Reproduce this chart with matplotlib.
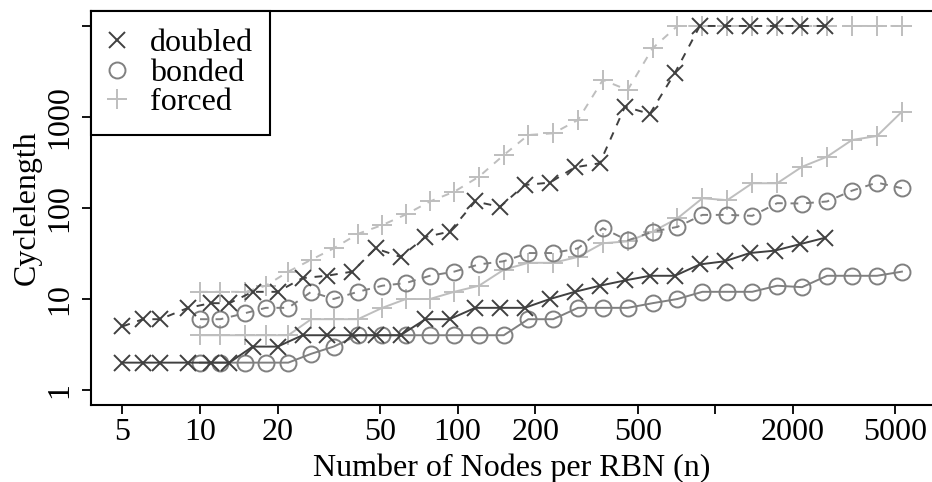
import matplotlib
matplotlib.use("Agg")
import matplotlib.pyplot as plt
from matplotlib.lines import Line2D

plt.rcParams['font.family'] = ['Liberation Serif', 'DejaVu Serif']

# ---- data ----
x_doubled = [5, 6, 7, 9, 11, 13, 16, 20, 25, 31, 39, 48, 60, 75, 93, 117, 146, 182,
             228, 285, 356, 446, 557, 697, 871, 1089, 1361, 1701, 2127, 2658]
doubled_solid = [2, 2, 2, 2, 2, 2, 3, 3, 4, 4, 4, 4, 4, 6, 6, 8, 8, 8,
                 10, 12, 14, 16, 18, 18, 24, 26, 32, 34, 40, 47]
doubled_dashed = [5, 6, 6, 8, 9, 9, 12, 12, 17, 18, 20, 36, 29, 48, 55, 118, 103, 179,
                  190, 280, 310, 1300, 1080, 3050, 10000, 10000, 10000, 10000, 10000, 10000]

x_grid = [10, 12, 15, 18, 22, 27, 33, 41, 51, 63, 78, 97, 121, 151, 188, 235, 293, 366,
          457, 571, 713, 891, 1113, 1391, 1738, 2172, 2715, 3393, 4241, 5301]
bonded_solid = [2, 2, 2, 2, 2, 2.5, 3, 4, 4, 4, 4, 4, 4, 4, 6, 6, 8, 8,
                8, 9, 10, 12, 12, 12, 14, 13.5, 18, 18, 18, 20]
bonded_dashed = [6, 6, 7, 8, 8, 12, 10, 12, 14, 15, 18, 20, 24, 26, 32, 32, 36, 60,
                 44, 55, 62, 84, 84, 82, 113, 112, 118, 155, 190, 165]
forced_solid = [4, 4, 4, 4, 4, 6, 6, 6, 8, 10, 10, 12, 14, 21, 25, 25, 29, 41,
                43, 55, 77, 128, 122, 187, 187, 284, 366, 559, 618, 1143]
forced_dashed = [12, 12, 12, 14, 20, 27, 36, 52, 65, 85, 118, 151, 221, 382, 634, 662, 927, 2550,
                 1980, 5690, 10000, 10000, 10000, 10000, 10000, 10000, 10000, 10000, 10000, 10000]

series_labels = ['doubled', 'bonded', 'forced']
x_ticks = [5, 10, 20, 50, 100, 200, 500, 1000, 2000, 5000]
x_ticklabels = ['5', '10', '20', '50', '100', '200', '500', '', '2000', '5000']
y_ticks = [1, 10, 100, 1000, 10000]
y_ticklabels = ['1', '10', '100', '1000', '']

# ---- style ----
c_dbl, c_bnd, c_frc = '#404040', '#808080', '#bebebe'
lw = 1.4
FS = 23

W, H = 932, 482
fig = plt.figure(figsize=(W / 100, H / 100), dpi=100)
left_px, right_px, top_px, bot_px = 91.3, 933.0, 11.4, 404.6
ax = fig.add_axes([left_px / W, (H - bot_px) / H, (right_px - left_px) / W, (bot_px - top_px) / H])
ax.set_xscale('log')
ax.set_yscale('log')

for x, y, c, m, ms, ls in [
    (x_grid, forced_dashed, c_frc, '+', 15, '--'),
    (x_grid, forced_solid, c_frc, '+', 15, '-'),
    (x_grid, bonded_dashed, c_bnd, 'o', 11.5, '--'),
    (x_grid, bonded_solid, c_bnd, 'o', 11.5, '-'),
    (x_doubled, doubled_dashed, c_dbl, 'x', 12, '--'),
    (x_doubled, doubled_solid, c_dbl, 'x', 12, '-'),
]:
    if ls == '--':
        ax.plot(x, y, color=c, lw=lw, dashes=(4, 4), marker=m, ms=ms, mew=1.4, mfc='none', mec=c)
    else:
        ax.plot(x, y, color=c, lw=lw, linestyle='-', marker=m, ms=ms, mew=1.4, mfc='none', mec=c)

ax.set_xlim(10 ** 0.578, 10 ** 3.845)
ax.set_ylim(10 ** -0.16, 10 ** 4.16)
ax.minorticks_off()
ax.set_xticks(x_ticks)
ax.set_xticklabels(x_ticklabels, fontsize=FS)
ax.set_yticks(y_ticks)
ax.set_yticklabels(y_ticklabels, fontsize=FS, rotation=90, va='center')
ax.tick_params(direction='out', length=6.3, width=1.3)
ax.tick_params(axis='x', pad=3)
ax.tick_params(axis='y', pad=6)
for s in ax.spines.values():
    s.set_linewidth(1.5)
ax.set_xlabel('Number of Nodes per RBN (n)', fontsize=FS, labelpad=5)
ax.set_ylabel('Cyclelength', fontsize=FS, labelpad=2.5)

handles = [
    Line2D([], [], linestyle='none', marker='x', ms=12, mew=1.4, color=c_dbl),
    Line2D([], [], linestyle='none', marker='o', ms=11.5, mew=1.4, mfc='none', color=c_bnd),
    Line2D([], [], linestyle='none', marker='+', ms=15, mew=1.4, color=c_frc),
]
leg = ax.legend(handles, series_labels, loc='upper left', bbox_to_anchor=(0, 1),
                borderaxespad=0, fancybox=False, framealpha=1, edgecolor='black',
                fontsize=FS, handlelength=0.5, handletextpad=0.78, labelspacing=0.0,
                borderpad=0.55)
leg.get_frame().set_linewidth(1.5)

fig.savefig('out.png', dpi=100)
